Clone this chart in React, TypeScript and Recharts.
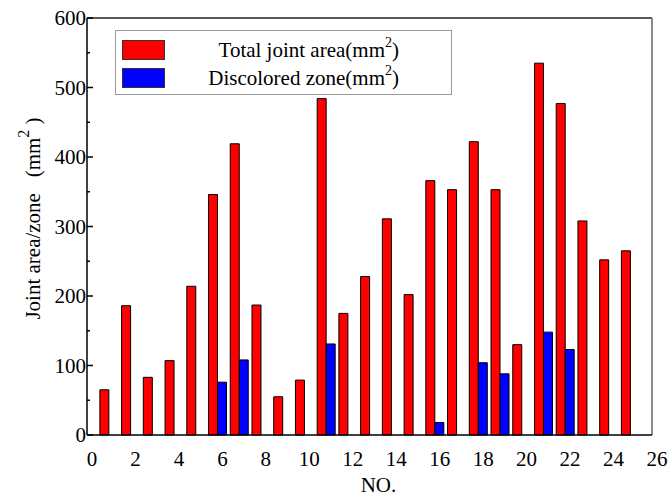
import { BarChart, Bar, XAxis, YAxis, ReferenceLine, Legend, Label } from 'recharts'

const sampleNo = [1, 2, 3, 4, 5, 6, 7, 8, 9, 10, 11, 12, 13, 14, 15, 16, 17, 18, 19, 20, 21, 22, 23, 24, 25]
const totalArea = [65, 186, 83, 107, 214, 346, 419, 187, 55, 79, 484, 175, 228, 311, 202, 366, 353, 422, 353, 130, 535, 477, 308, 252, 265]
const discolored = [0, 0, 0, 0, 0, 76, 108, 0, 0, 0, 131, 0, 0, 0, 0, 18, 0, 104, 88, 0, 148, 123, 0, 0, 0]
const xTicks = [0, 2, 4, 6, 8, 10, 12, 14, 16, 18, 20, 22, 24, 26]
const yTicks = [0, 50, 100, 150, 200, 250, 300, 350, 400, 450, 500, 550, 600]

const data = sampleNo.map((no, i) => ({ no, total: totalArea[i], zone: discolored[i] }))

const font = '"Liberation Serif", "Times New Roman", serif'

function YTick(props: any) {
  const { x, y, payload } = props
  const axisX = x + 3
  const major = payload.value % 100 === 0
  return (
    <g>
      <line x1={axisX} x2={axisX + (major ? 6 : 3)} y1={y} y2={y} stroke="#000" strokeWidth={1.5} />
      {major && (
        <text x={axisX - 1} y={y} dy={7} textAnchor="end" fontFamily={font} fontSize={21} fill="#000">
          {payload.value}
        </text>
      )}
    </g>
  )
}

function XTick(props: any) {
  const { x, y, payload } = props
  return (
    <text x={x + 5} y={y} dy={23} textAnchor="middle" fontFamily={font} fontSize={21} fill="#000">
      {payload.value}
    </text>
  )
}

function LegendBox() {
  const row = (color: string, label: string) => (
    <div style={{ display: 'flex', alignItems: 'center', height: 28 }}>
      <div style={{ width: 43, height: 20, background: color, border: '1px solid #333', boxSizing: 'border-box' }} />
      <div style={{ flex: 1, textAlign: 'right', paddingRight: 46, fontFamily: font, fontSize: 21, color: '#000' }}>
        {label}(mm<sup style={{ fontSize: 14, verticalAlign: 'top', position: 'relative', top: -3 }}>2</sup>)
      </div>
    </div>
  )
  return (
    <div style={{ width: 337, height: 65, border: '1px solid #999', boxSizing: 'border-box', padding: '5px 6px', background: '#fff' }}>
      {row('#ff0000', 'Total joint area')}
      {row('#0000ff', 'Discolored zone')}
    </div>
  )
}

function YLabel(props: any) {
  const { viewBox } = props
  const cx = 33
  const cy = viewBox.y + viewBox.height / 2 - 8
  return (
    <text x={cx} y={cy} transform={`rotate(-90 ${cx} ${cy})`} textAnchor="middle" dominantBaseline="central" fontFamily={font} fontSize={21} fill="#000">
      Joint area/zone{'\u00a0\u00a0\u00a0'}(mm<tspan fontSize={16} dy={-10}>2</tspan><tspan dy={10}>{'\u00a0'})</tspan>
    </text>
  )
}

export default function App() {
  return (
    <div style={{ position: 'absolute', left: 0, top: 0, background: '#fff' }}>
      <BarChart width={670} height={496} data={data} margin={{ top: 18, right: 18, bottom: 0, left: 0 }} barGap={0}>
        <XAxis
          dataKey="no"
          type="number"
          domain={[0, 26]}
          ticks={xTicks}
          interval={0}
          tickLine={false}
          tick={<XTick />}
          height={61}
          axisLine={{ stroke: '#000', strokeWidth: 1.5 }}
        >
          <Label value="NO." position="insideBottom" offset={4} dx={9} style={{ fontFamily: font, fontSize: 21, fill: '#000' }} />
        </XAxis>
        <YAxis
          type="number"
          domain={[0, 600]}
          ticks={yTicks}
          interval={0}
          width={87}
          tickSize={0}
          tickMargin={3}
          tickLine={false}
          tick={<YTick />}
          axisLine={{ stroke: '#000', strokeWidth: 1.5 }}
        >
          <Label content={<YLabel />} />
        </YAxis>
        <ReferenceLine y={600} stroke="#222" strokeWidth={1.5} />
        <ReferenceLine x={26} stroke="#666" strokeWidth={1.5} />
        <Legend
          layout="vertical"
          align="center"
          verticalAlign="middle"
          content={<LegendBox />}
          wrapperStyle={{ position: 'absolute', left: 115, top: 30, width: 337 }}
        />
        <Bar dataKey="total" fill="#ff0000" stroke="#000" strokeWidth={1} barSize={9} isAnimationActive={false} />
        <Bar dataKey="zone" fill="#0000ff" stroke="#000" strokeWidth={1} barSize={9} isAnimationActive={false} />
      </BarChart>
    </div>
  )
}
